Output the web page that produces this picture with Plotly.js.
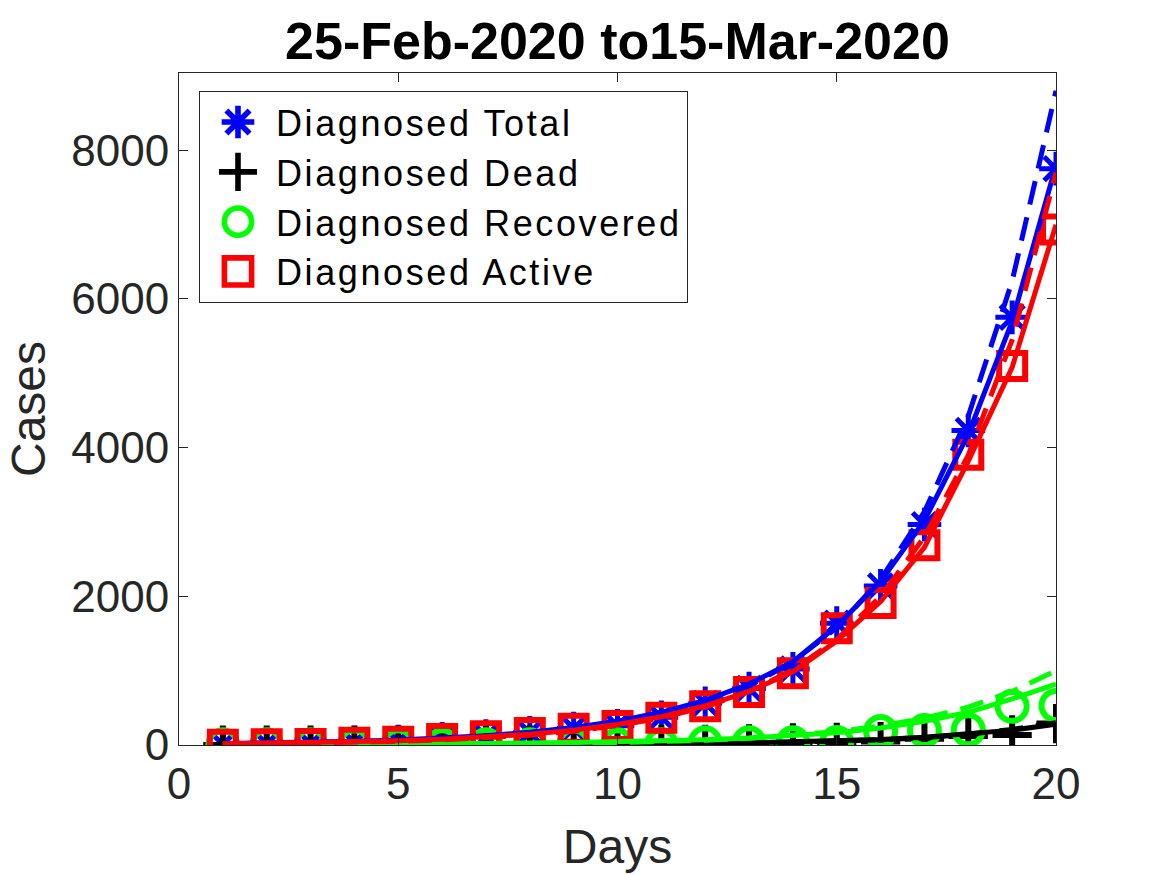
<!DOCTYPE html>
<html>
<head>
<meta charset="utf-8">
<script src="https://cdn.plot.ly/plotly-3.0.1.min.js"></script>
<style>
html,body{margin:0;padding:0;background:#fff;}
#chart{width:1167px;height:875px;}
.legendtext{letter-spacing:2.6px;}
</style>
</head>
<body>
<div id="chart"></div>
<script>
// ---- data ----
const days = [1, 2, 3, 4, 5, 6, 7, 8, 9, 10, 11, 12, 13, 14, 15, 16, 17, 18, 19, 20];

// observed points
const totalObs     = [6, 13, 15, 32, 45, 84, 120, 165, 222, 259, 374, 560, 760, 1024, 1639, 2140, 2965, 4231, 5753, 7753];
const deadObs      = [0, 0, 0, 0, 0, 0, 0, 0, 1, 3, 5, 10, 17, 28, 35, 47, 84, 120, 136, 288];
const recoveredObs = [2, 2, 2, 2, 2, 2, 2, 2, 2, 2, 2, 30, 30, 30, 32, 183, 195, 205, 520, 530];
const activeObs    = [4, 11, 13, 30, 43, 82, 118, 163, 219, 254, 367, 520, 713, 966, 1572, 1910, 2686, 3906, 5097, 6935];

// fitted curves (solid)
const totalFit     = [19, 26, 36, 49, 67, 92, 126, 172, 235, 320, 440, 600, 820, 1120, 1600, 2200, 3020, 4180, 5700, 7800];
const deadFit      = [0.5, 1, 1, 1.5, 2, 3, 4, 5, 7, 10, 14, 20, 28, 39, 54, 75, 105, 145, 200, 280];
const recoveredFit = [4, 5, 7, 9, 12, 16, 20, 26, 33, 42, 55, 72, 95, 125, 165, 230, 320, 440, 620, 820];
const activeFit    = [15, 22, 30, 42, 57, 78, 107, 146, 200, 275, 380, 525, 720, 985, 1400, 1930, 2660, 3820, 5080, 7000];

// fitted curves (dashed)
const totalFit2     = [13, 18, 26, 36, 51, 72, 101, 142, 201, 283, 399, 563, 794, 1120, 1579, 2226, 3139, 4426, 6241, 8800];
const deadFit2      = [0.3, 0.5, 0.7, 1, 1.5, 2, 3, 4, 6, 8, 12, 17, 24, 34, 49, 70, 100, 145, 210, 300];
const recoveredFit2 = [1, 2, 3, 4, 6, 8, 11, 16, 23, 32, 45, 64, 90, 128, 180, 255, 360, 510, 720, 1000];
const activeFit2    = [12, 17, 24, 34, 48, 67, 94, 132, 185, 260, 365, 510, 720, 1010, 1420, 2000, 2800, 3900, 5450, 7700];

const seriesNames = ['Diagnosed Total', 'Diagnosed Dead', 'Diagnosed Recovered', 'Diagnosed Active'];
const titleText = '25-Feb-2020 to15-Mar-2020';

// ---- styling ----
const BLUE = '#0000ff', BLACK = '#000000', GREEN = '#00ff00', RED = '#ff0000';
const FONT = 'Liberation Sans, Arial, Helvetica, sans-serif';
const AXC = '#262626';
const LW = 5;
const DASH = '24px,13px';

function markerTrace(y, name, symbol, color, size, lw) {
  return {x: days, y: y, name: name, type: 'scatter', mode: 'markers',
    marker: {symbol: symbol, size: size, color: color, line: {color: color, width: lw}},
    showlegend: true, hoverinfo: 'skip'};
}
function lineTrace(y, color, dash) {
  return {x: days, y: y, type: 'scatter', mode: 'lines',
    line: {color: color, width: LW, dash: dash || 'solid'}, showlegend: false, hoverinfo: 'skip'};
}

const traces = [
  markerTrace(totalObs, seriesNames[0], 'asterisk-open', BLUE, 28, 5),
  markerTrace(deadObs, seriesNames[1], 'cross-thin-open', BLACK, 28, 6),
  markerTrace(recoveredObs, seriesNames[2], 'circle-open', GREEN, 29, 6),
  markerTrace(activeObs, seriesNames[3], 'square-open', RED, 26, 6),
  lineTrace(totalFit, BLUE), lineTrace(totalFit2, BLUE, DASH),
  lineTrace(deadFit, BLACK), lineTrace(deadFit2, BLACK, DASH),
  lineTrace(recoveredFit, GREEN), lineTrace(recoveredFit2, GREEN, DASH),
  lineTrace(activeFit, RED), lineTrace(activeFit2, RED, DASH)
];

const layout = {
  width: 1167, height: 875,
  margin: {l: 179, r: 111, t: 73, b: 130, pad: 0},
  paper_bgcolor: '#ffffff', plot_bgcolor: '#ffffff',
  font: {family: FONT, color: AXC},
  title: {text: titleText, font: {family: FONT, size: 52, color: '#000000', weight: 'bold'},
    x: 0.5, xanchor: 'center', y: 0.953, yanchor: 'middle', xref: 'paper', yref: 'container'},
  xaxis: {range: [0, 20], tickmode: 'array', tickvals: [0, 5, 10, 15, 20], ticktext: ['0', '5', '10', '15', '20'],
    ticks: 'inside', ticklen: 9, tickwidth: 1, tickcolor: AXC,
    showline: true, linecolor: AXC, linewidth: 1, mirror: 'ticks', showgrid: false, zeroline: false,
    tickfont: {family: FONT, size: 44, color: AXC},
    title: {text: 'Days', font: {family: FONT, size: 48, color: AXC}, standoff: 22}},
  yaxis: {range: [0, 9040], tickmode: 'array', tickvals: [0, 2000, 4000, 6000, 8000], ticktext: ['0', '2000', '4000', '6000', '8000'],
    ticks: 'inside', ticklen: 9, tickwidth: 1, tickcolor: AXC,
    showline: true, linecolor: AXC, linewidth: 1, mirror: 'ticks', showgrid: false, zeroline: false,
    tickfont: {family: FONT, size: 44, color: AXC},
    title: {text: 'Cases', font: {family: FONT, size: 48, color: AXC}, standoff: 10}},
  legend: {x: 0.0228, y: 0.973, xanchor: 'left', yanchor: 'top',
    bgcolor: '#ffffff', bordercolor: AXC, borderwidth: 1,
    font: {family: FONT, size: 36, color: '#000000'}, itemwidth: 66, tracegroupgap: 0},
  showlegend: true
};

Plotly.newPlot('chart', traces, layout, {displayModeBar: false, staticPlot: true}).then(function (gd) {
  // enlarge the legend symbols (Plotly caps them at 16px)
  gd.querySelectorAll('.legendpoints path.scatterpts').forEach(function (p) {
    const t = p.getAttribute('transform') || '';
    p.setAttribute('transform', t + ' scale(1.7)');
    p.style.strokeWidth = '3.3px';
  });
});
</script>
</body>
</html>
